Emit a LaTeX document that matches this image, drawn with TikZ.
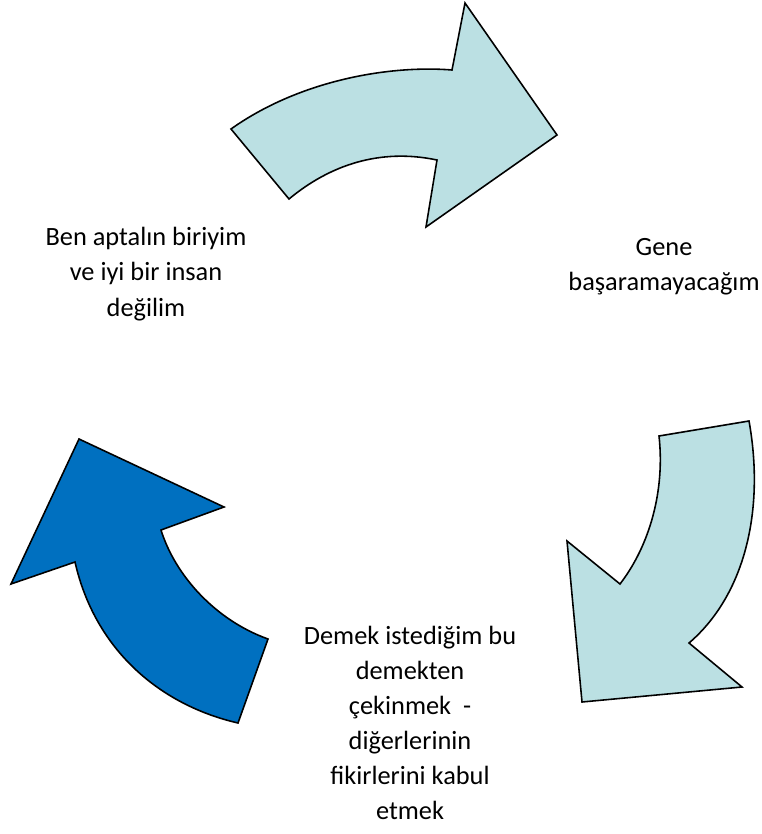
\documentclass[tikz,border=0pt]{standalone}
\usepackage{fontspec}
\setmainfont{Carlito}
\usepackage{tikz}
\usetikzlibrary{positioning}
\definecolor{paleblue}{HTML}{BBE0E3}
\definecolor{deepblue}{HTML}{0070C0}
\tikzset{
  bentarrow/.style={draw=black,line width=0.9pt,line join=miter},
  cycletext/.style={align=center,font=\fontsize{15}{20}\selectfont}
}
\begin{document}
\begin{tikzpicture}[x=0.02cm,y=-0.02cm]
      \useasboundingbox (0,0) rectangle (761,834);
      % top arrow
      \fill[paleblue,bentarrow] (231,129) .. controls (300,80) and (390,65) .. (452,70)
        -- (465,3) -- (557,135) -- (426,227) -- (437,160)
        .. controls (380,148) and (330,165) .. (289,199) -- cycle;
      % right arrow
      \fill[paleblue,bentarrow] (749,421) .. controls (765,510) and (745,595) .. (689,643)
        -- (742,687) -- (582,702) -- (567,541) -- (620,584)
        .. controls (650,545) and (665,490) .. (659,436) -- cycle;
      % left arrow
      \fill[deepblue,bentarrow] (238,723) .. controls (160,705) and (95,650) .. (75,562)
        -- (11,584) -- (79,439) -- (224,507) -- (161,530)
        .. controls (175,575) and (215,620) .. (268,639) -- cycle;
      \node [cycletext] (self) at (146,274) {Ben aptalın biriyim\\ve iyi bir insan\\değilim};
      \node [cycletext] (fail) at (664,267) {Gene\\başaramayacağım};
      \node [cycletext] (avoid) at (410,723) {Demek istediğim bu\\demekten\\çekinmek~ -\\diğerlerinin\\fikirlerini kabul\\etmek};
    \end{tikzpicture}
\end{document}
